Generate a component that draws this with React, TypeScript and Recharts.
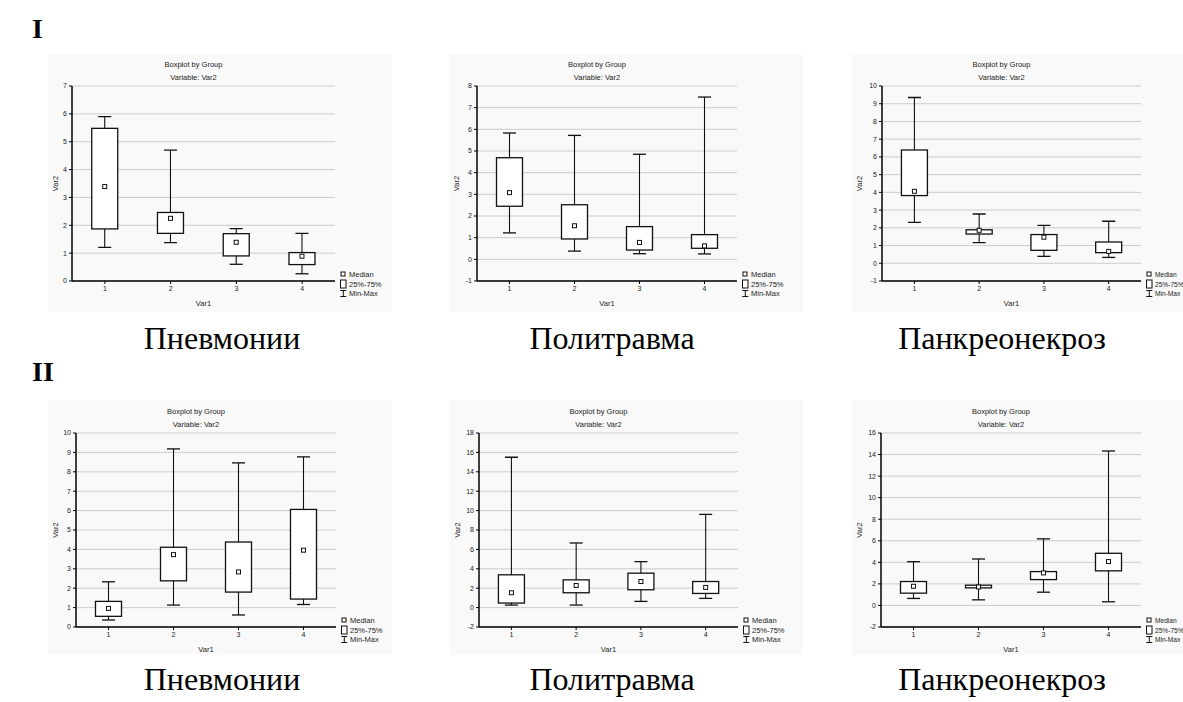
import React from "react";
import { ComposedChart, Bar, XAxis, YAxis, CartesianGrid } from "recharts";

// ---------- data ----------
const categories = ["1", "2", "3", "4"];

// I – Пневмонии
const p1Min = [1.21, 1.38, 0.6, 0.26];
const p1Q1 = [1.87, 1.71, 0.9, 0.59];
const p1Med = [3.39, 2.25, 1.39, 0.89];
const p1Q3 = [5.48, 2.46, 1.7, 1.02];
const p1Max = [5.9, 4.7, 1.88, 1.71];
const p1Ticks = [0, 1, 2, 3, 4, 5, 6, 7];

// I – Политравма
const p2Min = [1.22, 0.38, 0.26, 0.25];
const p2Q1 = [2.45, 0.94, 0.43, 0.51];
const p2Med = [3.08, 1.55, 0.78, 0.62];
const p2Q3 = [4.69, 2.52, 1.51, 1.14];
const p2Max = [5.83, 5.72, 4.85, 7.49];
const p2Ticks = [-1, 0, 1, 2, 3, 4, 5, 6, 7, 8];

// I – Панкреонекроз
const p3Min = [2.31, 1.17, 0.39, 0.33];
const p3Q1 = [3.82, 1.65, 0.73, 0.6];
const p3Med = [4.06, 1.86, 1.47, 0.67];
const p3Q3 = [6.39, 1.89, 1.62, 1.2];
const p3Max = [9.35, 2.78, 2.14, 2.37];
const p3Ticks = [-1, 0, 1, 2, 3, 4, 5, 6, 7, 8, 9, 10];

// II – Пневмонии
const p4Min = [0.36, 1.13, 0.62, 1.16];
const p4Q1 = [0.55, 2.38, 1.8, 1.44];
const p4Med = [0.96, 3.73, 2.84, 3.96];
const p4Q3 = [1.32, 4.11, 4.38, 6.06];
const p4Max = [2.33, 9.18, 8.46, 8.77];
const p4Ticks = [0, 1, 2, 3, 4, 5, 6, 7, 8, 9, 10];

// II – Политравма
const p5Min = [0.26, 0.26, 0.64, 0.95];
const p5Q1 = [0.47, 1.53, 1.84, 1.46];
const p5Med = [1.53, 2.28, 2.69, 2.08];
const p5Q3 = [3.38, 2.86, 3.55, 2.69];
const p5Max = [15.5, 6.66, 4.74, 9.61];
const p5Ticks = [-2, 0, 2, 4, 6, 8, 10, 12, 14, 16, 18];

// II – Панкреонекроз
const p6Min = [0.65, 0.52, 1.23, 0.34];
const p6Q1 = [1.14, 1.63, 2.4, 3.21];
const p6Med = [1.78, 1.72, 3.02, 4.07];
const p6Q3 = [2.22, 1.88, 3.14, 4.84];
const p6Max = [4.06, 4.31, 6.18, 14.33];
const p6Ticks = [-2, 0, 2, 4, 6, 8, 10, 12, 14, 16];

const rowLabels = ["I", "II"];
const panelNames = ["Пневмонии", "Политравма", "Панкреонекроз"];
const chartTitle = "Boxplot by Group";
const chartSubtitle = "Variable: Var2";
const xAxisName = "Var1";
const yAxisName = "Var2";
const legendNames = ["Median", "25%-75%", "Min-Max"];

function buildRows(mins: number[], q1s: number[], meds: number[], q3s: number[], maxs: number[]) {
  return categories.map((c, i) => ({
    cat: c,
    range: [mins[i], maxs[i]],
    min: mins[i],
    q1: q1s[i],
    med: meds[i],
    q3: q3s[i],
    max: maxs[i],
  }));
}

const panelData = [
  { rows: buildRows(p1Min, p1Q1, p1Med, p1Q3, p1Max), ticks: p1Ticks },
  { rows: buildRows(p2Min, p2Q1, p2Med, p2Q3, p2Max), ticks: p2Ticks },
  { rows: buildRows(p3Min, p3Q1, p3Med, p3Q3, p3Max), ticks: p3Ticks },
  { rows: buildRows(p4Min, p4Q1, p4Med, p4Q3, p4Max), ticks: p4Ticks },
  { rows: buildRows(p5Min, p5Q1, p5Med, p5Q3, p5Max), ticks: p5Ticks },
  { rows: buildRows(p6Min, p6Q1, p6Med, p6Q3, p6Max), ticks: p6Ticks },
];

// ---------- layout (plot rectangles, page coordinates) ----------
const plotRects = [
  { L: 72, T: 86, R: 335, B: 281, yLab: 17, lgFont: 7.5 },
  { L: 477, T: 86, R: 737, B: 281, yLab: 21, lgFont: 7.5 },
  { L: 882, T: 86, R: 1141, B: 281, yLab: 23, lgFont: 6.6 },
  { L: 76, T: 433, R: 336, B: 627, yLab: 21, lgFont: 7.5 },
  { L: 479, T: 433, R: 738, B: 627, yLab: 22, lgFont: 7.5 },
  { L: 881, T: 433, R: 1141, B: 627, yLab: 22, lgFont: 6.6 },
];
const bgRects = [
  { x: 48, y: 54, w: 344, h: 258 },
  { x: 450, y: 54, w: 353, h: 258 },
  { x: 852, y: 54, w: 331, h: 258 },
  { x: 48, y: 400, w: 344, h: 255 },
  { x: 450, y: 400, w: 353, h: 255 },
  { x: 852, y: 400, w: 331, h: 255 },
];
const nameCenters = [222, 612, 1002];
const nameBaselines = [349, 690];
const rowLabelBaselines = [38, 381];

const SANS = "'Liberation Sans', Arial, sans-serif";
const SERIF = "'Liberation Serif', 'Times New Roman', serif";
const INK = "#111";

function BoxShape(props: any) {
  const { x, y, width, height, payload } = props;
  if (x == null || y == null || !payload) return null;
  const top = Math.min(y, y + height);
  const h = Math.abs(height);
  const { min, max, q1, q3, med } = payload;
  const py = (v: number) => top + ((max - v) / (max - min)) * h;
  const cx = x + width / 2;
  const capHalf = width / 4;
  const yMax = py(max);
  const yMin = py(min);
  const yQ1 = py(q1);
  const yQ3 = py(q3);
  const yMed = py(med);
  return (
    <g>
      <line x1={cx} x2={cx} y1={yMax} y2={yMin} stroke={INK} strokeWidth={1.1} />
      <line x1={cx - capHalf} x2={cx + capHalf} y1={yMax} y2={yMax} stroke={INK} strokeWidth={1.3} />
      <line x1={cx - capHalf} x2={cx + capHalf} y1={yMin} y2={yMin} stroke={INK} strokeWidth={1.3} />
      <rect x={x} y={yQ3} width={width} height={Math.max(yQ1 - yQ3, 0.5)} fill="#fff" stroke={INK} strokeWidth={1.3} />
      <rect x={cx - 2} y={yMed - 2} width={4} height={4} fill="#fff" stroke={INK} strokeWidth={1} />
    </g>
  );
}

const axisLineStyle = { stroke: "#000", strokeWidth: 1.5 };
const tickStyle = { fontSize: 7, fill: "#222", fontFamily: SANS };

function Panel({ idx }: { idx: number }) {
  const r = plotRects[idx];
  const d = panelData[idx];
  const ticks = d.ticks;
  const domain: [number, number] = [ticks[0], ticks[ticks.length - 1]];
  const mTop = 6;
  const mRight = 6;
  const yW = 30;
  const xH = 16;
  const width = r.R - r.L + yW + mRight;
  const height = r.B - r.T + mTop + xH;
  return (
    <div style={{ position: "absolute", left: r.L - yW, top: r.T - mTop, width, height }}>
      <ComposedChart
        width={width}
        height={height}
        data={d.rows}
        margin={{ top: mTop, right: mRight, bottom: 0, left: 0 }}
        barCategoryGap="30%"
      >
        <CartesianGrid vertical={false} stroke="#cdcdcd" strokeWidth={1} />
        <XAxis
          dataKey="cat"
          height={xH}
          tickSize={3}
          tickMargin={2}
          axisLine={axisLineStyle}
          tickLine={{ stroke: "#000" }}
          tick={tickStyle}
          interval={0}
        />
        <XAxis
          xAxisId="top"
          orientation="top"
          dataKey="cat"
          height={0}
          mirror
          tick={false}
          tickSize={3}
          axisLine={axisLineStyle}
          tickLine={{ stroke: "#000" }}
        />
        <YAxis
          type="number"
          domain={domain}
          ticks={ticks}
          interval={0}
          allowDataOverflow
          width={yW}
          tickSize={3}
          tickMargin={2}
          axisLine={axisLineStyle}
          tickLine={{ stroke: "#000" }}
          tick={tickStyle}
        />
        <YAxis
          yAxisId="r"
          orientation="right"
          type="number"
          domain={domain}
          ticks={ticks}
          interval={0}
          allowDataOverflow
          width={0}
          mirror
          tick={false}
          tickSize={3}
          axisLine={axisLineStyle}
          tickLine={{ stroke: "#000" }}
        />
        <Bar dataKey="range" shape={<BoxShape />} isAnimationActive={false} />
      </ComposedChart>
    </div>
  );
}

function Decorations() {
  return (
    <svg
      width={1183}
      height={702}
      style={{ position: "absolute", left: 0, top: 0 }}
    >
      <rect x={0} y={0} width={1183} height={702} fill="#fff" />
      {bgRects.map((b, i) => (
        <rect key={"bg" + i} x={b.x} y={b.y} width={b.w} height={b.h} fill="#f9f9f9" />
      ))}
      {rowLabels.map((t, i) => (
        <text key={"row" + i} x={32} y={rowLabelBaselines[i]} fontFamily={SERIF} fontWeight="bold" fontSize={28} fill="#000">
          {t}
        </text>
      ))}
      {[0, 1].map((row) =>
        panelNames.map((n, j) => (
          <text
            key={"nm" + row + j}
            x={nameCenters[j]}
            y={nameBaselines[row]}
            textAnchor="middle"
            fontFamily={SERIF}
            fontSize={32}
            fill="#000"
          >
            {n}
          </text>
        ))
      )}
      {plotRects.map((r, i) => {
        const cx = (r.L + r.R) / 2;
        const cy = (r.T + r.B) / 2;
        const yl = r.L - r.yLab;
        return (
          <g key={"dec" + i} fontFamily={SANS} fontSize={7.5} fill="#222">
            <text x={cx - 10} y={r.T - 22} textAnchor="middle" dominantBaseline="central">
              {chartTitle}
            </text>
            <text x={cx - 10} y={r.T - 9} textAnchor="middle" dominantBaseline="central">
              {chartSubtitle}
            </text>
            <text x={cx} y={r.B + 22} textAnchor="middle" dominantBaseline="central">
              {xAxisName}
            </text>
            <text
              x={yl}
              y={cy}
              textAnchor="middle"
              dominantBaseline="central"
              transform={`rotate(-90, ${yl}, ${cy})`}
            >
              {yAxisName}
            </text>
            {/* legend */}
            <g fontSize={r.lgFont}>
              <rect x={r.R + 6} y={r.B - 9} width={4} height={4} fill="#fff" stroke={INK} strokeWidth={1} />
              <text x={r.R + 14} y={r.B - 7} dominantBaseline="central">
                {legendNames[0]}
              </text>
              <rect x={r.R + 5.5} y={r.B - 1} width={5.5} height={8} fill="#fff" stroke={INK} strokeWidth={1} />
              <text x={r.R + 14} y={r.B + 3} dominantBaseline="central">
                {legendNames[1]}
              </text>
              <line x1={r.R + 8.3} x2={r.R + 8.3} y1={r.B + 9.5} y2={r.B + 15.5} stroke={INK} strokeWidth={1} />
              <line x1={r.R + 5.3} x2={r.R + 11.3} y1={r.B + 9.5} y2={r.B + 9.5} stroke={INK} strokeWidth={1} />
              <line x1={r.R + 5.3} x2={r.R + 11.3} y1={r.B + 15.5} y2={r.B + 15.5} stroke={INK} strokeWidth={1} />
              <text x={r.R + 14} y={r.B + 12.7} dominantBaseline="central">
                {legendNames[2]}
              </text>
            </g>
          </g>
        );
      })}
    </svg>
  );
}

export default function App() {
  return (
    <div
      style={{
        position: "absolute",
        left: 0,
        top: 0,
        width: 1183,
        height: 702,
        overflow: "hidden",
        background: "#fff",
      }}
    >
      <Decorations />
      {plotRects.map((_, i) => (
        <Panel key={i} idx={i} />
      ))}
    </div>
  );
}
